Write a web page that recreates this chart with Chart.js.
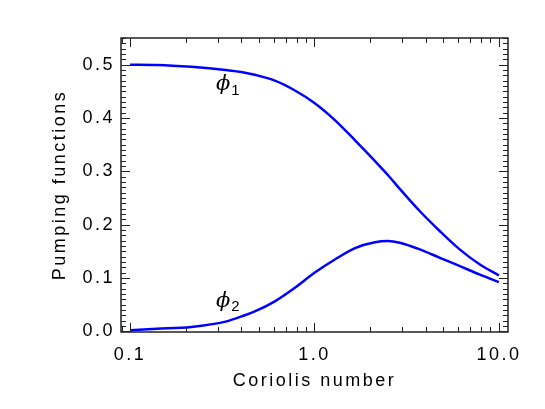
<!DOCTYPE html>
<html>
<head>
<meta charset="utf-8">
<script src="https://cdn.jsdelivr.net/npm/chart.js"></script>
<style>
  html, body { margin: 0; padding: 0; background: #fff; }
  canvas { display: block; }
</style>
</head>
<body>
<canvas id="chart" width="545" height="409"></canvas>
<script>
// Coriolis number samples (x) and the two pumping functions
const coriolis = [0.1, 0.14, 0.215, 0.33, 0.42, 0.475, 0.61, 0.78, 1.0, 1.29, 1.66, 2.13, 2.5, 2.9, 3.73, 4.79, 6.15, 7.89, 10.0];
const phi1 = [0.500, 0.4995, 0.496, 0.490, 0.485, 0.481, 0.470, 0.452, 0.428, 0.396, 0.358, 0.319, 0.293, 0.267, 0.225, 0.1875, 0.153, 0.125, 0.1045];
const phi2 = [0.002, 0.0045, 0.008, 0.018, 0.030, 0.037, 0.056, 0.081, 0.1095, 0.1345, 0.156, 0.167, 0.169, 0.166, 0.1535, 0.1376, 0.122, 0.106, 0.092];

const xTicks = [0.1, 1, 10];
const xTickLabels = ['0.1', '1.0', '10.0'];
const yTicks = [0.0, 0.1, 0.2, 0.3, 0.4, 0.5];

const curveLabels = [
  { name: '\u03d5', sub: '1', x: 0.32, y: 0.463 },
  { name: '\u03d5', sub: '2', x: 0.32, y: 0.056 }
];

const lineColor = '#0000ff';
const axisColor = '#222';
const textFont = '"Liberation Sans", "DejaVu Sans", sans-serif';

function pts(ys) {
  return coriolis.map((x, i) => ({ x: x, y: ys[i] }));
}

// canvas state is reset on resize, so reapply letter spacing before layout and draw
const spacing = {
  id: 'spacing',
  beforeLayout(chart) { chart.ctx.letterSpacing = '2.5px'; },
  beforeDraw(chart) { chart.ctx.letterSpacing = '2.5px'; }
};

// IDL style frame: box with inward major/minor ticks on all four sides
const frame = {
  id: 'frame',
  afterDatasetsDraw(chart) {
    const ctx = chart.ctx;
    const a = chart.chartArea;
    const xs = chart.scales.x, ys = chart.scales.y;
    ctx.save();
    ctx.letterSpacing = '0px';
    ctx.strokeStyle = axisColor;
    ctx.lineWidth = 1.5;
    ctx.strokeRect(a.left, a.top, a.right - a.left, a.bottom - a.top);

    ctx.lineWidth = 1;
    ctx.beginPath();
    // x ticks (log): majors at decades, minors at 2..9
    for (let d = -2; d <= 1; d++) {
      for (let m = 1; m <= 9; m++) {
        const v = m * Math.pow(10, d);
        if (v < xs.min || v > xs.max) continue;
        const px = Math.round(xs.getPixelForValue(v)) + 0.5;
        const len = m === 1 ? 9 : 5;
        ctx.moveTo(px, a.bottom); ctx.lineTo(px, a.bottom - len);
        ctx.moveTo(px, a.top); ctx.lineTo(px, a.top + len);
      }
    }
    // y ticks: majors every 0.1, minors every 0.01
    for (let i = 0; i <= 55; i++) {
      const v = i / 100;
      if (v < ys.min || v > ys.max) continue;
      const py = Math.round(ys.getPixelForValue(v)) + 0.5;
      const len = i % 10 === 0 ? 9 : 5;
      ctx.moveTo(a.left, py); ctx.lineTo(a.left + len, py);
      ctx.moveTo(a.right, py); ctx.lineTo(a.right - len, py);
    }
    ctx.stroke();

    // curve names
    ctx.fillStyle = '#000';
    ctx.textBaseline = 'middle';
    curveLabels.forEach(l => {
      const px = xs.getPixelForValue(l.x);
      const py = ys.getPixelForValue(l.y);
      ctx.font = 'italic 21px "DejaVu Serif", serif';
      ctx.textAlign = 'center';
      ctx.fillText(l.name, px, py);
      const w = ctx.measureText(l.name).width;
      ctx.font = '15px ' + textFont;
      ctx.textAlign = 'left';
      ctx.fillText(l.sub, px + w / 2 + 1, py + 6);
    });
    ctx.restore();
  }
};

new Chart(document.getElementById('chart'), {
  type: 'line',
  data: {
    datasets: [
      { label: 'phi1', data: pts(phi1), borderColor: lineColor },
      { label: 'phi2', data: pts(phi2), borderColor: lineColor }
    ]
  },
  options: {
    responsive: false,
    animation: false,
    events: [],
    elements: {
      line: { borderWidth: 2.5, fill: false, cubicInterpolationMode: 'monotone' },
      point: { radius: 0 }
    },
    layout: { padding: { top: 38, right: 37, left: 0, bottom: 0 } },
    plugins: {
      legend: { display: false },
      tooltip: { enabled: false }
    },
    scales: {
      x: {
        type: 'logarithmic',
        min: 0.0894,
        max: 11.2,
        grid: { display: false, drawTicks: false, tickLength: 0 },
        border: { display: false },
        afterBuildTicks(scale) { scale.ticks = xTicks.map(v => ({ value: v })); },
        afterFit(scale) { scale.height = 77; },
        ticks: {
          color: '#000',
          padding: 12,
          maxRotation: 0,
          autoSkip: false,
          font: { family: textFont, size: 18 },
          callback: (v) => xTickLabels[xTicks.indexOf(v)]
        },
        title: {
          display: true,
          text: 'Coriolis number',
          color: '#000',
          padding: { top: 0, bottom: 17 },
          font: { family: textFont, size: 18 }
        }
      },
      y: {
        min: -0.0015,
        max: 0.55,
        grid: { display: false, drawTicks: false, tickLength: 0 },
        border: { display: false },
        afterBuildTicks(scale) { scale.ticks = yTicks.map(v => ({ value: v })); },
        afterFit(scale) { scale.width = 121; },
        ticks: {
          color: '#000',
          padding: 6,
          font: { family: textFont, size: 18 },
          callback: (v) => v.toFixed(1)
        },
        title: {
          display: true,
          text: 'Pumping functions',
          color: '#000',
          padding: { top: 49, bottom: 0 },
          font: { family: textFont, size: 18 }
        }
      }
    }
  },
  plugins: [spacing, frame]
});
</script>
</body>
</html>
